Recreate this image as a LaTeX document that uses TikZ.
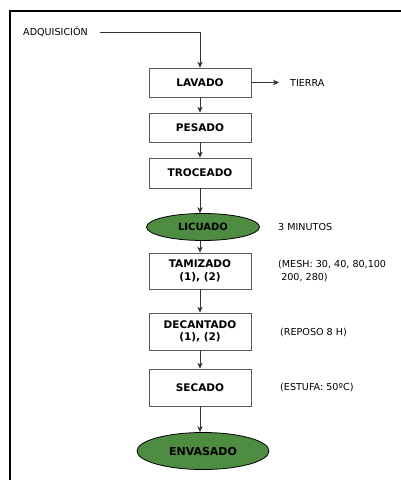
\documentclass[tikz,border=0pt]{standalone}
\usepackage{fontspec}
\setmainfont{DejaVu Sans}
\usetikzlibrary{shapes.geometric,arrows.meta}
\definecolor{verde}{RGB}{78,140,66}
\definecolor{borde}{RGB}{90,90,90}
\begin{document}
\begin{tikzpicture}[x=1pt,y=-1pt,
    caja/.style={draw=borde,thick,fill=white,minimum width=102pt,align=center,
      font=\fontsize{10.5}{12.5}\selectfont\bfseries,inner sep=0pt},
    elipse/.style={ellipse,draw=black,thick,fill=verde,inner sep=0pt,
      font=\fontsize{10}{12}\selectfont\bfseries},
    nota/.style={anchor=west,inner sep=0pt,align=left,font=\fontsize{9.6}{13}\selectfont},
    flecha/.style={-{Stealth[length=6pt,width=5.5pt]},thick,draw=black!80}]
    \useasboundingbox (0,0) rectangle (401,480);

    % marco
    \draw[line width=1.2pt] (10,480) -- (10,11) -- (401,11);

    % entrada
    \node[nota] (adq) at (23,32) {ADQUISICIÓN};
    \coordinate (codo) at (200,32);

    % cajas del proceso
    \node[caja,minimum height=29pt] (lav) at (200,82.5) {LAVADO};
    \node[caja,minimum height=29pt] (pes) at (200,127.5) {PESADO};
    \node[caja,minimum height=30pt] (tro) at (200,173) {TROCEADO};
    \node[elipse,minimum width=113pt,minimum height=27pt] (lic) at (203,227) {LICUADO};
    \node[caja,minimum height=36pt] (tam) at (200,271) {TAMIZADO\\(1), (2)};
    \node[caja,minimum height=37pt] (dec) at (200,331.5) {DECANTADO\\(1), (2)};
    \node[caja,minimum height=37pt] (sec) at (200,387.5) {SECADO};
    \node[elipse,minimum width=132pt,minimum height=37pt,
      font=\fontsize{11}{13}\selectfont\bfseries] (env) at (203,451) {ENVASADO};

    % notas a la derecha
    \node[nota] (tierra) at (290,82.5) {TIERRA};
    \node[nota] (min) at (278,227) {3 MINUTOS};
    \node[nota] (mesh) at (278,271) {(MESH: 30, 40, 80,100\\\ 200, 280)};
    \node[nota] (rep) at (280,332) {(REPOSO 8 H)};
    \node[nota] (est) at (280,387.5) {(ESTUFA: 50ºC)};

    % flechas
    \draw[thick,draw=black!80] (adq.east) ++(12,0) -- (codo);
    \draw[flecha] (codo) -- (lav.north);
    \draw[flecha,shorten >=11pt] (lav.east) -- (tierra.west);
    \draw[flecha] (lav) -- (pes);
    \draw[flecha] (pes) -- (tro);
    \draw[flecha] (tro.south) -- (tro.south |- lic.north);
    \draw[flecha] (tro.south |- lic.south) -- (tam.north);
    \draw[flecha] (tam) -- (dec);
    \draw[flecha] (dec) -- (sec);
    \draw[flecha] (sec.south) -- (sec.south |- env.north);
\end{tikzpicture}
\end{document}
